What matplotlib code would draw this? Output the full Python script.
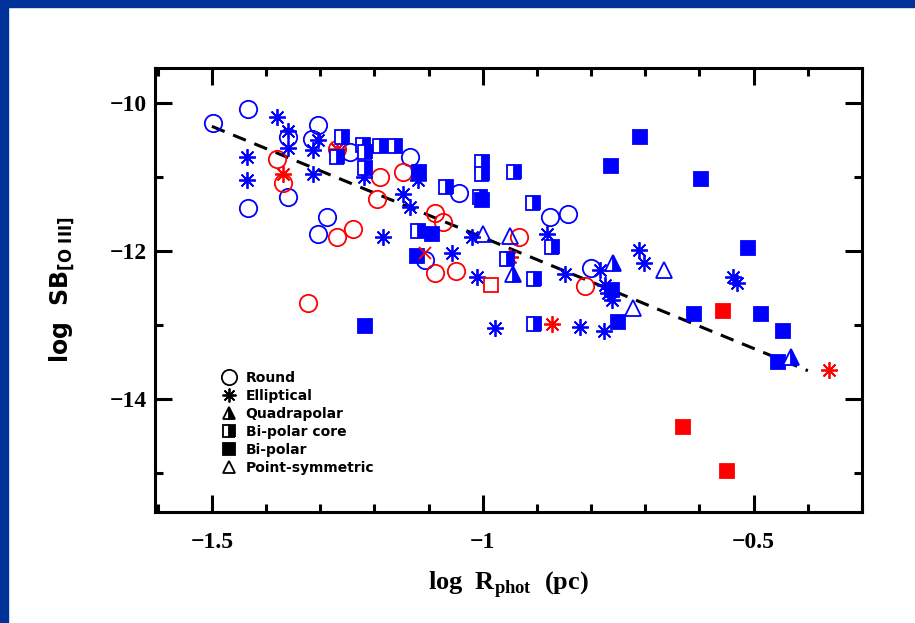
import matplotlib
matplotlib.use("Agg")
import matplotlib.pyplot as plt
from matplotlib.lines import Line2D
from matplotlib.patches import Rectangle
from matplotlib.ticker import MultipleLocator

# Round nebulae
round_blue_x = [-1.498, -1.433, -1.433, -1.360, -1.360, -1.304, -1.315, -1.287, -1.304,
                -1.245, -1.134, -1.106, -1.043, -0.875, -0.842, -0.801]
round_blue_y = [-10.28, -10.09, -11.42, -10.47, -11.28, -10.30, -10.49, -11.55, -11.77,
                -10.66, -10.73, -12.12, -11.22, -11.55, -11.51, -12.23]
round_red_x = [-1.380, -1.369, -1.269, -1.239, -1.323, -1.269, -1.189, -1.195, -1.147,
               -1.088, -1.073, -1.088, -1.049, -0.933, -0.811]
round_red_y = [-10.76, -11.08, -11.81, -11.70, -12.70, -10.62, -11.00, -11.30, -10.93,
               -11.49, -11.61, -12.30, -12.28, -11.82, -12.47]

# Elliptical nebulae
ell_blue_x = [-1.380, -1.360, -1.360, -1.435, -1.435, -1.313, -1.313, -1.304, -1.184,
              -1.219, -1.147, -1.134, -1.119, -1.056, -1.019, -1.010, -0.977, -0.881,
              -0.849, -0.820, -0.777, -0.783, -0.774, -0.768, -0.761, -0.711, -0.703,
              -0.539, -0.530]
ell_blue_y = [-10.20, -10.38, -10.61, -10.73, -11.05, -10.96, -10.64, -10.50, -11.81,
              -11.01, -11.24, -11.41, -11.04, -12.03, -11.81, -12.35, -13.04, -11.78,
              -12.32, -13.03, -13.09, -12.26, -12.46, -12.57, -12.66, -11.99, -12.16,
              -12.35, -12.43]
ell_red_x = [-1.269, -1.369, -0.949, -0.872, -0.361]
ell_red_y = [-10.62, -10.97, -12.09, -12.99, -13.61]

# Quadrapolar nebulae
quad_x = [-0.945, -0.759, -0.432]
quad_y = [-12.31, -12.16, -13.43]

# Bi-polar core nebulae
core_blue_x = [-1.260, -1.221, -1.217, -1.189, -1.162, -1.217, -1.269, -1.001, -1.001,
               -0.942, -1.067, -1.005, -0.907, -1.119, -0.872, -0.955, -0.905, -0.905]
core_blue_y = [-10.46, -10.57, -10.66, -10.59, -10.58, -10.88, -10.73, -10.80, -10.96,
               -10.93, -11.14, -11.27, -11.35, -11.74, -11.95, -12.11, -12.38, -12.99]
core_red_x = [-0.984]
core_red_y = [-12.46]

# Bi-polar nebulae
bip_blue_x = [-1.117, -1.093, -1.121, -1.001, -0.709, -0.764, -0.598, -0.511, -1.217,
              -0.750, -0.611, -0.487, -0.445, -0.456, -0.761]
bip_blue_y = [-10.93, -11.78, -12.07, -11.31, -10.46, -10.86, -11.03, -11.96, -13.01,
              -12.96, -12.85, -12.86, -13.08, -13.50, -12.53]
bip_red_x = [-0.557, -0.631, -0.550]
bip_red_y = [-12.81, -14.38, -14.97]

# Point-symmetric nebulae
ps_x = [-0.999, -0.949, -0.722, -0.666]
ps_y = [-11.77, -11.80, -12.77, -12.26]

# Unclassified object
cross_x = [-1.106]
cross_y = [-12.03]

# Fitted relation
fit_x = [-1.5, -0.4]
fit_slope = -3.0
fit_icpt = -14.82

BLUE = "#0000ff"
RED = "#ff0000"
ASTER = (8, 2, 0)

fig = plt.figure(figsize=(9.15, 6.23), dpi=100)
fig.patches.append(Rectangle((0, 1 - 7 / 623), 1, 7 / 623, transform=fig.transFigure,
                             color="#003399", zorder=0))
fig.patches.append(Rectangle((0, 0), 8 / 915, 1, transform=fig.transFigure,
                             color="#003399", zorder=0))

ax = fig.add_axes([0.1694, 0.178, 0.7727, 0.7131])

ax.plot(fit_x, [fit_slope * v + fit_icpt for v in fit_x], color="black", lw=2.2,
        ls=(0, (4.5, 3)), zorder=1)

kw = dict(ls="none", mew=1.3)
ax.plot(round_blue_x, round_blue_y, marker="o", ms=12.5, mfc="none", mec=BLUE, **kw)
ax.plot(round_red_x, round_red_y, marker="o", ms=12.5, mfc="none", mec=RED, **kw)
ax.plot(ell_blue_x, ell_blue_y, marker=ASTER, ms=12, mec=BLUE, **kw)
ax.plot(ell_red_x, ell_red_y, marker=ASTER, ms=12, mec=RED, **kw)
ax.plot(core_blue_x, core_blue_y, marker="s", ms=10, mec=BLUE, mfc=BLUE,
        mfcalt="white", fillstyle="right", **kw)
ax.plot(core_red_x, core_red_y, marker="s", ms=10, mfc="none", mec=RED, **kw)
ax.plot(bip_blue_x, bip_blue_y, marker="s", ms=10, mfc=BLUE, mec=BLUE, **kw)
ax.plot(bip_red_x, bip_red_y, marker="s", ms=10, mfc=RED, mec=RED, **kw)
ax.plot(quad_x, quad_y, marker="^", ms=11, mec=BLUE, mfc=BLUE, mfcalt="white",
        fillstyle="right", **kw)
ax.plot(ps_x, ps_y, marker="^", ms=11, mfc="none", mec=BLUE, **kw)
ax.plot(cross_x, cross_y, marker="x", ms=9, mec=RED, **kw)

ax.set_xlim(-1.605, -0.30)
ax.set_ylim(-15.53, -9.53)
ax.xaxis.set_major_locator(MultipleLocator(0.5))
ax.xaxis.set_minor_locator(MultipleLocator(0.1))
ax.yaxis.set_major_locator(MultipleLocator(2))
ax.yaxis.set_minor_locator(MultipleLocator(1))
ax.tick_params(which="both", direction="in", top=True, right=True, width=2.2)
ax.tick_params(which="major", length=12)
ax.tick_params(which="minor", length=6)
ax.tick_params(axis="x", which="major", pad=14)
ax.tick_params(axis="y", which="major", pad=6)
for s in ax.spines.values():
    s.set_linewidth(2.2)

tick_font = dict(family="Liberation Serif", weight="bold", size=17)
ax.set_xticks([-1.5, -1.0, -0.5])
ax.set_xticklabels(["\u22121.5", "\u22121", "\u22120.5"], **tick_font)
ax.set_yticks([-14, -12, -10])
ax.set_yticklabels(["\u221214", "\u221212", "\u221210"], **tick_font)

ax.set_xlabel(r"log  R$_{\mathregular{phot}}$  (pc)", family="Liberation Serif",
              weight="bold", size=19, labelpad=12)
ax.set_ylabel(r"log  SB$_{\mathregular{[O\ III]}}$", family="DejaVu Sans",
              weight="bold", size=17, labelpad=24)

handles = [
    Line2D([], [], ls="none", marker="o", ms=11, mfc="none", mec="black", mew=1.3),
    Line2D([], [], ls="none", marker=ASTER, ms=10, mec="black", mew=1.3),
    Line2D([], [], ls="none", marker="^", ms=9, mfc="black", mfcalt="white",
           fillstyle="right", mec="black", mew=1.3),
    Line2D([], [], ls="none", marker="s", ms=8, mfc="black", mfcalt="white",
           fillstyle="right", mec="black", mew=1.3),
    Line2D([], [], ls="none", marker="s", ms=8, mfc="black", mec="black", mew=1.3),
    Line2D([], [], ls="none", marker="^", ms=9, mfc="none", mec="black", mew=1.3),
]
labels = ["Round", "Elliptical", "Quadrapolar", "Bi-polar core", "Bi-polar",
          "Point-symmetric"]
ax.legend(handles, labels, loc="upper left", bbox_to_anchor=(0.085, 0.333),
          frameon=False, handlelength=1.0, handletextpad=0.7, labelspacing=0.28,
          borderpad=0, prop=dict(family="DejaVu Sans", weight="bold", size=10))

fig.savefig("out.png", dpi=100)
